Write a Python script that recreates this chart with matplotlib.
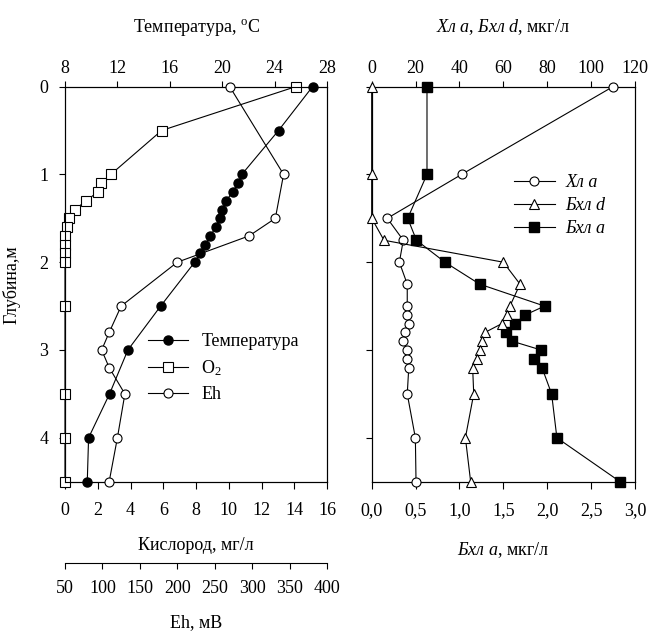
import matplotlib
matplotlib.use('Agg')
import matplotlib.pyplot as plt
from matplotlib.lines import Line2D

plt.rcParams['font.family'] = ['Liberation Serif', 'DejaVu Serif']
plt.rcParams['mathtext.fontset'] = 'custom'
plt.rcParams['mathtext.rm'] = 'Liberation Serif'
plt.rcParams['mathtext.it'] = 'Liberation Serif:italic'
FS = 13
plt.rcParams['font.size'] = FS

# ---------------- data: left panel ----------------
depth_temp = [0, 0.5, 1.0, 1.1, 1.2, 1.3, 1.4, 1.5, 1.6, 1.7, 1.8, 1.9, 2.0,
              2.5, 3.0, 3.5, 4.0, 4.5]
temp = [26.9, 24.3, 21.5, 21.2, 20.8, 20.3, 20.0, 19.8, 19.5, 19.1, 18.7,
        18.3, 17.9, 15.3, 12.8, 11.4, 9.8, 9.7]

depth_o2 = [0, 0.5, 1.0, 1.1, 1.2, 1.3, 1.4, 1.5, 1.6, 1.7, 1.8, 1.9, 2.0,
            2.5, 3.5, 4.0, 4.5]
o2 = [14.1, 5.9, 2.8, 2.2, 2.0, 1.3, 0.6, 0.25, 0.1, 0, 0, 0, 0, 0, 0, 0, 0]

depth_eh = [0, 1.0, 1.5, 1.7, 2.0, 2.5, 2.8, 3.0, 3.2, 3.5, 4.0, 4.5]
eh = [270, 342, 331, 296, 200, 125, 109, 99, 109, 130, 120, 109]

# ---------------- data: right panel ----------------
depth_pig = [0, 1.0, 1.5, 1.75, 2.0, 2.25, 2.5, 2.6, 2.7, 2.8, 2.9, 3.0,
             3.1, 3.2, 3.5, 4.0, 4.5]
chl_a = [110, 41, 7.1, 14.4, 12.6, 16.2, 16.2, 16.2, 17.1, 15.3, 14.4, 15.9,
         16.2, 16.9, 16.2, 19.9, 20.2]
bchl_d = [0, 0, 0, 5.6, 60.0, 67.6, 63.0, 61.8, 59.3, 51.6, 50.3, 49.4,
          47.8, 46.0, 46.5, 42.7, 45.1]
bchl_a = [0.63, 0.63, 0.41, 0.51, 0.835, 1.23, 1.97, 1.75, 1.63, 1.53, 1.60,
          1.93, 1.85, 1.94, 2.05, 2.11, 2.83]

depth_ticks = [0, 1, 2, 3, 4]
temp_ticks = [8, 12, 16, 20, 24, 28]
o2_ticks = [0, 2, 4, 6, 8, 10, 12, 14, 16]
eh_ticks = [50, 100, 150, 200, 250, 300, 350, 400]
pig_ticks = [0, 20, 40, 60, 80, 100, 120]
bchl_a_ticks = [0.0, 0.5, 1.0, 1.5, 2.0, 2.5, 3.0]

W, H = 649, 631
fig = plt.figure(figsize=(W / 100, H / 100), dpi=100)

def fx(px):
    return px / W

def fy(py):
    return 1 - py / H

top_px, bot_px = 86.6, 481.7
axL = fig.add_axes([fx(65), fy(bot_px), fx(327) - fx(65), fy(top_px) - fy(bot_px)])
axR = fig.add_axes([fx(371.7), fy(bot_px), fx(635) - fx(371.7), fy(top_px) - fy(bot_px)])

tick_kw = dict(direction='out', length=4, width=0.8, labelsize=FS, pad=3)
lw = 0.8
ms = 6.5

for a in (axL, axR):
    a.set_ylim(4.5, 0)
    a.set_yticks(depth_ticks)
    for s in a.spines.values():
        s.set_linewidth(0.8)
    a.tick_params(axis='both', **tick_kw)
    a.tick_params(axis='y', pad=8)
    a.tick_params(axis='x', length=5, pad=9.5)
axR.tick_params(axis='y', labelleft=False)

# --- left panel: O2 on bottom axis ---
axL.set_xlim(0, 16)
axL.set_xticks(o2_ticks)
axL.set_xticklabels([str(v) for v in o2_ticks])
l_o2, = axL.plot(o2, depth_o2, color='black', lw=lw, marker='s', ms=ms,
                 mfc='white', mec='black', mew=0.8, clip_on=False, zorder=3)

# temperature on top axis
axT = axL.twiny()
axT.set_xlim(8, 28)
axT.set_xticks(temp_ticks)
axT.tick_params(axis='x', **tick_kw)
for s in axT.spines.values():
    s.set_linewidth(0.8)
l_t, = axT.plot(temp, depth_temp, color='black', lw=lw, marker='o', ms=ms,
                mfc='black', mec='black', clip_on=False, zorder=3)

# Eh on detached bottom axis
axE = axL.twiny()
axE.set_xlim(50, 400)
axE.set_xticks(eh_ticks)
axE.xaxis.set_ticks_position('bottom')
axE.xaxis.set_label_position('bottom')
axE.spines['bottom'].set_position(('outward', 58.3))
axE.spines['bottom'].set_visible(True)
axE.spines['bottom'].set_linewidth(0.8)
for k in ('top', 'left', 'right'):
    axE.spines[k].set_visible(False)
axE.tick_params(axis='x', **tick_kw)
axE.tick_params(axis='x', pad=8.5)
l_eh, = axE.plot(eh, depth_eh, color='black', lw=lw, marker='o', ms=ms,
                 mfc='white', mec='black', mew=0.8, clip_on=False, zorder=3)

axT.legend([l_t, l_o2, l_eh], ['Температура', 'O$_2$', 'Eh'],
           loc='upper left', bbox_to_anchor=(fx(148), fy(333)),
           bbox_transform=fig.transFigure, frameon=False, borderpad=0,
           borderaxespad=0, handlelength=2.2, handletextpad=0.75,
           labelspacing=0.45, fontsize=FS)

# --- right panel ---
axR.set_xlim(0, 3.0)
axR.set_xticks(bchl_a_ticks)
axR.set_xticklabels([f'{v:.1f}'.replace('.', ',') for v in bchl_a_ticks])
l_ba, = axR.plot(bchl_a, depth_pig, color='black', lw=lw, marker='s', ms=ms,
                 mfc='black', mec='black', clip_on=False, zorder=3)

axP = axR.twiny()
axP.set_xlim(0, 120)
axP.set_xticks(pig_ticks)
axP.tick_params(axis='x', **tick_kw)
for s in axP.spines.values():
    s.set_linewidth(0.8)
l_ca, = axP.plot(chl_a, depth_pig, color='black', lw=lw, marker='o', ms=ms,
                 mfc='white', mec='black', mew=0.8, clip_on=False, zorder=3)
l_bd, = axP.plot(bchl_d, depth_pig, color='black', lw=lw, marker='^', ms=ms,
                 mfc='white', mec='black', mew=0.8, clip_on=False, zorder=3)

axP.legend([l_ca, l_bd, l_ba], ['Хл a', 'Бхл d', 'Бхл a'],
           loc='upper left', bbox_to_anchor=(fx(514), fy(174)),
           bbox_transform=fig.transFigure, frameon=False, borderpad=0,
           borderaxespad=0, handlelength=2.25, handletextpad=0.6,
           labelspacing=0.33, prop={'size': FS, 'style': 'italic'})

# --- labels ---
fig.text(fx(197), fy(27), 'Температура, $^{\\mathrm{o}}$C', ha='center', va='center', fontsize=FS)
fig.text(fx(503), fy(27), '$\\mathit{Хл\\ a}$, $\\mathit{Бхл\\ d}$, мкг/л',
         ha='center', va='center', fontsize=FS)
fig.text(fx(196), fy(545), 'Кислород, мг/л', ha='center', va='center', fontsize=FS)
fig.text(fx(196), fy(623), 'Eh, мВ', ha='center', va='center', fontsize=FS)
fig.text(fx(503), fy(550), '$\\mathit{Бхл\\ a}$, мкг/л', ha='center', va='center', fontsize=FS)
fig.text(fx(12), fy(285), 'Глубина,м', ha='center', va='center', rotation=90, fontsize=FS)

fig.savefig('out.png', dpi=100)
